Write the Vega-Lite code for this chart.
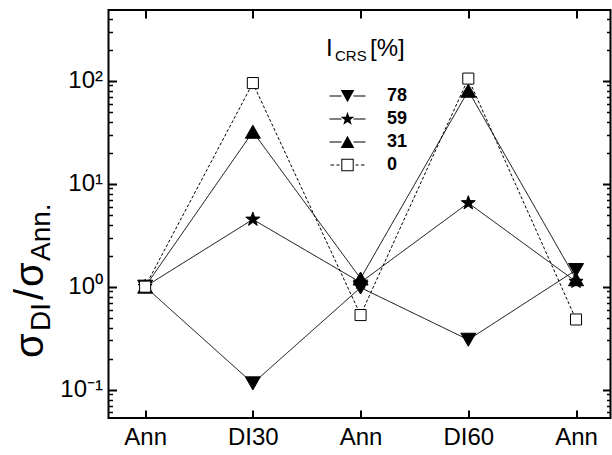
{
  "$schema": "https://vega.github.io/schema/vega-lite/v6.json",
  "width": 502,
  "height": 408,
  "autosize": {"type": "none"},
  "padding": {"left": 108.5, "top": 10, "right": 1, "bottom": 37},
  "background": "white",
  "config": {
    "view": {"stroke": "black", "strokeWidth": 2},
    "font": "Liberation Sans",
    "axis": {"domain": false, "grid": false, "title": null, "tickColor": "black", "labelColor": "black", "labelFont": "Liberation Sans"}
  },
  "datasets": {
    "main": [
      {"series": "78", "pos": 1, "value": 1},
      {"series": "78", "pos": 2, "value": 0.115},
      {"series": "78", "pos": 3, "value": 0.98},
      {"series": "78", "pos": 4, "value": 0.305},
      {"series": "78", "pos": 5, "value": 1.45},
      {"series": "59", "pos": 1, "value": 1},
      {"series": "59", "pos": 2, "value": 4.5},
      {"series": "59", "pos": 3, "value": 1.1},
      {"series": "59", "pos": 4, "value": 6.5},
      {"series": "59", "pos": 5, "value": 1.12},
      {"series": "31", "pos": 1, "value": 1},
      {"series": "31", "pos": 2, "value": 32},
      {"series": "31", "pos": 3, "value": 1.2},
      {"series": "31", "pos": 4, "value": 80},
      {"series": "31", "pos": 5, "value": 1.18},
      {"series": "0", "pos": 1, "value": 1},
      {"series": "0", "pos": 2, "value": 95},
      {"series": "0", "pos": 3, "value": 0.53},
      {"series": "0", "pos": 4, "value": 105},
      {"series": "0", "pos": 5, "value": 0.48}
    ]
  },
  "layer": [
    {
      "data": {"name": "main"},
      "mark": {"type": "line", "stroke": "black", "strokeWidth": 1},
      "encoding": {
        "x": {"field": "pos", "type": "quantitative", "scale": {"domain": [0.66, 5.32], "nice": false, "zero": false},
          "axis": {"orient": "bottom", "values": [1, 2, 3, 4, 5], "labelExpr": "['','Ann','DI30','Ann','DI60','Ann'][datum.value]", "tickSize": -8, "tickWidth": 2, "labelFontSize": 24, "labelPadding": 15}},
        "y": {"field": "value", "type": "quantitative", "scale": {"type": "log", "domain": [0.053, 487], "nice": false, "zero": false},
          "axis": {"orient": "left", "values": [0.1, 1, 10, 100], "labelExpr": "datum.value >= 99 ? '10²' : datum.value >= 9 ? '10¹' : datum.value >= 0.9 ? '10⁰' : '10⁻¹'", "tickSize": -8, "tickWidth": 2, "labelFontSize": 24, "labelPadding": 14}},
        "detail": {"field": "series", "type": "nominal"},
        "strokeDash": {"field": "series", "type": "nominal", "scale": {"domain": ["78", "59", "31", "0"], "range": [[1, 0], [1, 0], [1, 0], [3, 2]]}, "legend": null}
      }
    },
    {
      "data": {"name": "main"},
      "mark": {"type": "point", "filled": true, "stroke": "black", "strokeWidth": 1, "opacity": 1, "size": 196},
      "encoding": {
        "x": {"field": "pos", "type": "quantitative", "scale": {"domain": [0.66, 5.32], "nice": false, "zero": false},
          "axis": {"orient": "top", "values": [1, 2, 3, 4, 5], "labels": false, "tickSize": -8, "tickWidth": 2}},
        "y": {"field": "value", "type": "quantitative", "scale": {"type": "log", "domain": [0.053, 487], "nice": false, "zero": false},
          "axis": {"orient": "right", "values": [0.1, 1, 10, 100], "labels": false, "tickSize": -8, "tickWidth": 2}},
        "shape": {"field": "series", "type": "nominal", "legend": null, "scale": {"domain": ["78", "59", "31", "0"], "range": [
          "M-1.07,-0.93L1.07,-0.93L0,0.93Z",
          "M0,-1.05L0.2469,-0.3398L0.9986,-0.3245L0.3995,0.1298L0.6172,0.8494L0,0.42L-0.6172,0.8494L-0.3995,0.1298L-0.9986,-0.3245L-0.2469,-0.3398Z",
          "M0,-0.93L1.07,0.93L-1.07,0.93Z",
          "M-0.79,-0.79H0.79V0.79H-0.79Z"]}},
        "fill": {"field": "series", "type": "nominal", "legend": null, "scale": {"domain": ["78", "59", "31", "0"], "range": ["black", "black", "black", "white"]}}
      }
    },
    {
      "data": {"name": "main"},
      "mark": {"type": "point", "filled": true, "color": "black", "fill": "black", "stroke": "black", "strokeWidth": 1, "opacity": 0, "size": 400},
      "encoding": {
        "x": {"field": "pos", "type": "quantitative", "scale": {"domain": [0.66, 5.32], "nice": false, "zero": false}, "axis": null},
        "y": {"field": "value", "type": "quantitative", "scale": {"type": "log", "domain": [0.053, 487], "nice": false, "zero": false},
          "axis": {"orient": "left", "values": [0.06, 0.07, 0.08, 0.09, 0.2, 0.3, 0.4, 0.5, 0.6, 0.7, 0.8, 0.9, 2, 3, 4, 5, 6, 7, 8, 9, 20, 30, 40, 50, 60, 70, 80, 90, 200, 300, 400], "labels": false, "tickSize": -4, "tickWidth": 1.5}},
        "shape": {"field": "series", "type": "nominal", "sort": ["78", "59", "31", "0"],
          "scale": {"domain": ["78", "59", "31", "0"], "range": [
            "M-1.8,-0.06H-0.6V0.06H-1.8ZM0.6,-0.06H1.8V0.06H0.6ZM-0.68,-0.6L0.68,-0.6L0,0.62Z",
            "M-1.8,-0.06H-0.6V0.06H-1.8ZM0.6,-0.06H1.8V0.06H0.6ZM0,-0.72L0.17,-0.234L0.685,-0.222L0.274,0.089L0.423,0.582L0,0.288L-0.423,0.582L-0.274,0.089L-0.685,-0.222L-0.17,-0.234Z",
            "M-1.8,-0.06H-0.6V0.06H-1.8ZM0.6,-0.06H1.8V0.06H0.6ZM0,-0.62L0.68,0.6L-0.68,0.6Z",
            "M-1.7,-0.06H-1.35V0.06H-1.7ZM-1.1,-0.06H-0.8V0.06H-1.1ZM0.8,-0.06H1.1V0.06H0.8ZM1.35,-0.06H1.7V0.06H1.35ZM-0.62,-0.62H0.62V0.62H-0.62ZM-0.52,-0.52V0.52H0.52V-0.52Z"]},
          "legend": {"orient": "none", "legendX": 228.5, "legendY": 75.5, "title": null, "padding": 0, "symbolSize": 400, "labelFont": "Liberation Sans", "labelFontSize": 18, "labelFontWeight": "bold", "labelColor": "black", "labelOffset": 29, "rowPadding": 3, "symbolFillColor": "black", "symbolStrokeColor": "black", "symbolStrokeWidth": 1, "symbolOpacity": 1,
            "encode": {"symbols": {"update": {"opacity": {"value": 1}, "fill": {"value": "black"}, "stroke": {"value": "black"}, "strokeWidth": {"value": 1}}}}}
        }
      }
    },
    {
      "data": {"values": [{}]},
      "mark": {"type": "text", "text": "I", "font": "Liberation Sans", "fontSize": 24, "align": "left", "baseline": "alphabetic", "color": "black"},
      "encoding": {
        "x": {"datum": 2.679, "type": "quantitative", "scale": {"domain": [0.66, 5.32], "nice": false, "zero": false}, "axis": null},
        "y": {"datum": 174, "type": "quantitative", "scale": {"type": "log", "domain": [0.053, 487], "nice": false, "zero": false},
          "axis": {"orient": "right", "values": [0.06, 0.07, 0.08, 0.09, 0.2, 0.3, 0.4, 0.5, 0.6, 0.7, 0.8, 0.9, 2, 3, 4, 5, 6, 7, 8, 9, 20, 30, 40, 50, 60, 70, 80, 90, 200, 300, 400], "labels": false, "tickSize": -4, "tickWidth": 1.5}}
      }
    },
    {
      "data": {"values": [{}]},
      "mark": {"type": "text", "text": "CRS", "font": "Liberation Sans", "fontSize": 15, "align": "left", "baseline": "alphabetic", "dx": 9, "dy": 5, "color": "black"},
      "encoding": {
        "x": {"datum": 2.679, "type": "quantitative", "scale": {"domain": [0.66, 5.32], "nice": false, "zero": false}, "axis": null},
        "y": {"datum": 174, "type": "quantitative", "scale": {"type": "log", "domain": [0.053, 487], "nice": false, "zero": false}, "axis": null}
      }
    },
    {
      "data": {"values": [{}]},
      "mark": {"type": "text", "text": "[%]", "font": "Liberation Sans", "fontSize": 24, "align": "left", "baseline": "alphabetic", "dx": 44, "color": "black"},
      "encoding": {
        "x": {"datum": 2.679, "type": "quantitative", "scale": {"domain": [0.66, 5.32], "nice": false, "zero": false}, "axis": null},
        "y": {"datum": 174, "type": "quantitative", "scale": {"type": "log", "domain": [0.053, 487], "nice": false, "zero": false}, "axis": null}
      }
    },
    {
      "data": {"values": [{}]},
      "mark": {"type": "text", "text": "σ", "font": "Liberation Sans", "fontSize": 40, "angle": 270, "align": "left", "baseline": "alphabetic", "color": "black"},
      "encoding": {
        "x": {"datum": 0.052, "type": "quantitative", "scale": {"domain": [0.66, 5.32], "nice": false, "zero": false}, "axis": null},
        "y": {"datum": 0.203, "type": "quantitative", "scale": {"type": "log", "domain": [0.053, 487], "nice": false, "zero": false}, "axis": null}
      }
    },
    {
      "data": {"values": [{}]},
      "mark": {"type": "text", "text": "DI", "font": "Liberation Sans", "fontSize": 28, "angle": 270, "align": "left", "baseline": "alphabetic", "dx": 27, "dy": 7, "color": "black"},
      "encoding": {
        "x": {"datum": 0.052, "type": "quantitative", "scale": {"domain": [0.66, 5.32], "nice": false, "zero": false}, "axis": null},
        "y": {"datum": 0.203, "type": "quantitative", "scale": {"type": "log", "domain": [0.053, 487], "nice": false, "zero": false}, "axis": null}
      }
    },
    {
      "data": {"values": [{}]},
      "mark": {"type": "text", "text": "/", "font": "Liberation Sans", "fontSize": 40, "angle": 270, "align": "left", "baseline": "alphabetic", "dx": 58, "color": "black"},
      "encoding": {
        "x": {"datum": 0.052, "type": "quantitative", "scale": {"domain": [0.66, 5.32], "nice": false, "zero": false}, "axis": null},
        "y": {"datum": 0.203, "type": "quantitative", "scale": {"type": "log", "domain": [0.053, 487], "nice": false, "zero": false}, "axis": null}
      }
    },
    {
      "data": {"values": [{}]},
      "mark": {"type": "text", "text": "σ", "font": "Liberation Sans", "fontSize": 40, "angle": 270, "align": "left", "baseline": "alphabetic", "dx": 71, "color": "black"},
      "encoding": {
        "x": {"datum": 0.052, "type": "quantitative", "scale": {"domain": [0.66, 5.32], "nice": false, "zero": false}, "axis": null},
        "y": {"datum": 0.203, "type": "quantitative", "scale": {"type": "log", "domain": [0.053, 487], "nice": false, "zero": false}, "axis": null}
      }
    },
    {
      "data": {"values": [{}]},
      "mark": {"type": "text", "text": "Ann.", "font": "Liberation Sans", "fontSize": 28, "angle": 270, "align": "left", "baseline": "alphabetic", "dx": 97, "dy": 7, "color": "black"},
      "encoding": {
        "x": {"datum": 0.052, "type": "quantitative", "scale": {"domain": [0.66, 5.32], "nice": false, "zero": false}, "axis": null},
        "y": {"datum": 0.203, "type": "quantitative", "scale": {"type": "log", "domain": [0.053, 487], "nice": false, "zero": false}, "axis": null}
      }
    }
  ],
  "resolve": {"axis": {"x": "independent", "y": "independent"}, "scale": {"shape": "independent"}}
}
